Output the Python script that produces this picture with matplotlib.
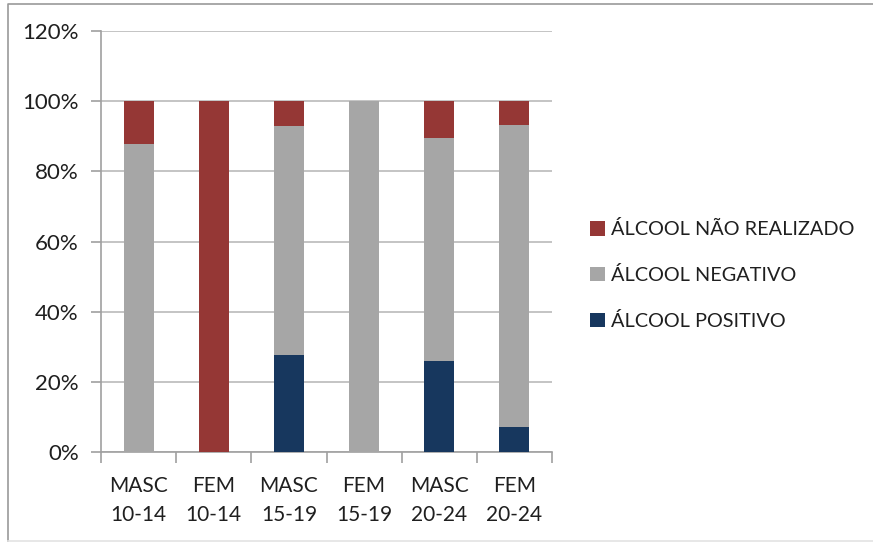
import matplotlib
matplotlib.use("Agg")
import matplotlib.pyplot as plt
from matplotlib.lines import Line2D
import numpy as np

plt.rcParams["font.family"] = ["Lato", "DejaVu Sans"]

categories = ["MASC\n10-14", "FEM\n10-14", "MASC\n15-19", "FEM\n15-19", "MASC\n20-24", "FEM\n20-24"]
positivo = [0.0, 0.0, 27.7, 0.0, 26.0, 7.0]
negativo = [87.8, 0.0, 65.2, 100.0, 63.5, 86.2]
nao_realizado = [12.2, 100.0, 7.1, 0.0, 10.5, 6.8]

series_labels = ["ÁLCOOL POSITIVO", "ÁLCOOL NEGATIVO", "ÁLCOOL NÃO REALIZADO"]
colors = ["#17375E", "#A6A6A6", "#953735"]

W, H = 873, 543
fig = plt.figure(figsize=(W / 100, H / 100), dpi=100)
ax = fig.add_axes([101 / W, 1 - 452 / H, 451 / W, 421 / H])

x = np.arange(len(categories))
bottom = np.zeros(len(categories))
handles = []
for vals, lab, col in zip([positivo, negativo, nao_realizado], series_labels, colors):
    vals = np.array(vals)
    b = ax.bar(x, vals, width=0.4, bottom=bottom, color=col, label=lab, zorder=3)
    handles.append(b)
    bottom += vals

ax.set_xlim(-0.5, len(categories) - 0.5)
ax.set_ylim(0, 120)
ax.set_yticks(np.arange(0, 121, 20))
ax.set_yticklabels([f"{v}%" for v in range(0, 121, 20)], fontsize=16, color="#1F1F1F")
ax.yaxis.grid(True, color="#BFBFBF", linewidth=1.3, zorder=0)

# category labels centred, tick marks drawn between categories
ax.set_xticks(x)
ax.set_xticklabels(categories, fontsize=15, color="#1F1F1F", linespacing=1.6)
ax.set_xticks(np.arange(-0.5, len(categories)), minor=True)
ax.tick_params(axis="x", which="major", length=0, pad=17)
ax.tick_params(axis="x", which="minor", length=8, color="#A0A0A0", width=1.2)
ax.tick_params(axis="y", length=7, color="#A0A0A0", width=1.2, pad=9)

for s in ["top", "right"]:
    ax.spines[s].set_visible(False)
for s in ["left", "bottom"]:
    ax.spines[s].set_color("#A0A0A0")
    ax.spines[s].set_linewidth(1.2)

leg = fig.legend(handles[::-1], series_labels[::-1], loc="center left",
                 bbox_to_anchor=(572 / W, 1 - 275 / H), frameon=False,
                 fontsize=14.3, handlelength=0.75, handleheight=0.75,
                 handletextpad=0.3, labelspacing=1.4, labelcolor="#1F1F1F")

# chart area border: left/top edges visible, bottom edge faint
left, top, base = 8 / W, 1 - 4 / H, 1 - 541 / H
fig.add_artist(Line2D([left, left, 1.0], [base, top, top], transform=fig.transFigure,
                      color="#9A9A9A", linewidth=1.2))
fig.add_artist(Line2D([left, 1.0], [base, base], transform=fig.transFigure,
                      color="#E3E3E3", linewidth=1.2))

fig.savefig("out.png", dpi=100, facecolor="white")
